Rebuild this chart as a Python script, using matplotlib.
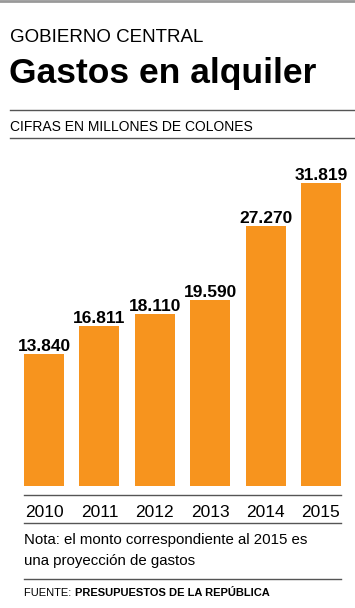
import matplotlib
matplotlib.use("Agg")
import matplotlib.pyplot as plt
from matplotlib.lines import Line2D

plt.rcParams['font.family'] = ['Liberation Sans', 'DejaVu Sans']

# datos
years = ['2010', '2011', '2012', '2013', '2014', '2015']
gastos = [13840, 16811, 18110, 19590, 27270, 31819]
labels = ['13.840', '16.811', '18.110', '19.590', '27.270', '31.819']

W, H = 355, 608
ORANGE = '#F7941E'
GRAY = '#555555'

fig = plt.figure(figsize=(W / 100, H / 100), dpi=100)


def fy(py):
    # pixel desde arriba -> fraccion de figura
    return 1 - py / H


def hline(x0, x1, py, color=GRAY, lw=1.0):
    fig.add_artist(Line2D([x0 / W, x1 / W], [fy(py), fy(py)], color=color, lw=lw))


# encabezado
hline(0, W, 1, color='#999999', lw=2.0)
fig.text(10 / W, fy(38), 'GOBIERNO CENTRAL', fontsize=13.5, va='center', ha='left')
fig.text(9 / W, fy(73), 'Gastos en alquiler', fontsize=25.5, fontweight='bold',
         va='center', ha='left')
hline(10, W, 110)
fig.text(10 / W, fy(127), 'CIFRAS EN MILLONES DE COLONES', fontsize=10,
         va='center', ha='left')
hline(10, W, 138)

# grafico de barras
bottom_px, top_px = 486, 160
ax = fig.add_axes([24 / W, fy(bottom_px), (341 - 24) / W, (bottom_px - top_px) / H])
x = list(range(len(years)))
ax.bar(x, gastos, width=0.723, color=ORANGE)
ax.set_xlim(-0.3615, 5.3615)
ax.set_ylim(0, (bottom_px - top_px) / 0.00952)
for xi, v, lab in zip(x, gastos, labels):
    ax.text(xi, v, lab, ha='center', va='bottom', fontsize=12.5, fontweight='bold')
    ax.annotate(years[xi], xy=(xi, 0), xycoords='data', xytext=(0, -19),
                textcoords='offset points', ha='center', va='center', fontsize=12.5)
ax.axis('off')

hline(24, 341, 495)
hline(24, 341, 523)

# nota y fuente
fig.text(24 / W, fy(540), 'Nota: el monto correspondiente al 2015 es',
         fontsize=10.8, va='center', ha='left')
fig.text(24 / W, fy(561), 'una proyección de gastos',
         fontsize=10.8, va='center', ha='left')
hline(24, 341, 579)
fig.text(24 / W, fy(593), 'FUENTE: ', fontsize=8, va='center', ha='left')
fig.text(75 / W, fy(593), 'PRESUPUESTOS DE LA REPÚBLICA', fontsize=8,
         fontweight='bold', va='center', ha='left')

fig.savefig('out.png', dpi=100)
